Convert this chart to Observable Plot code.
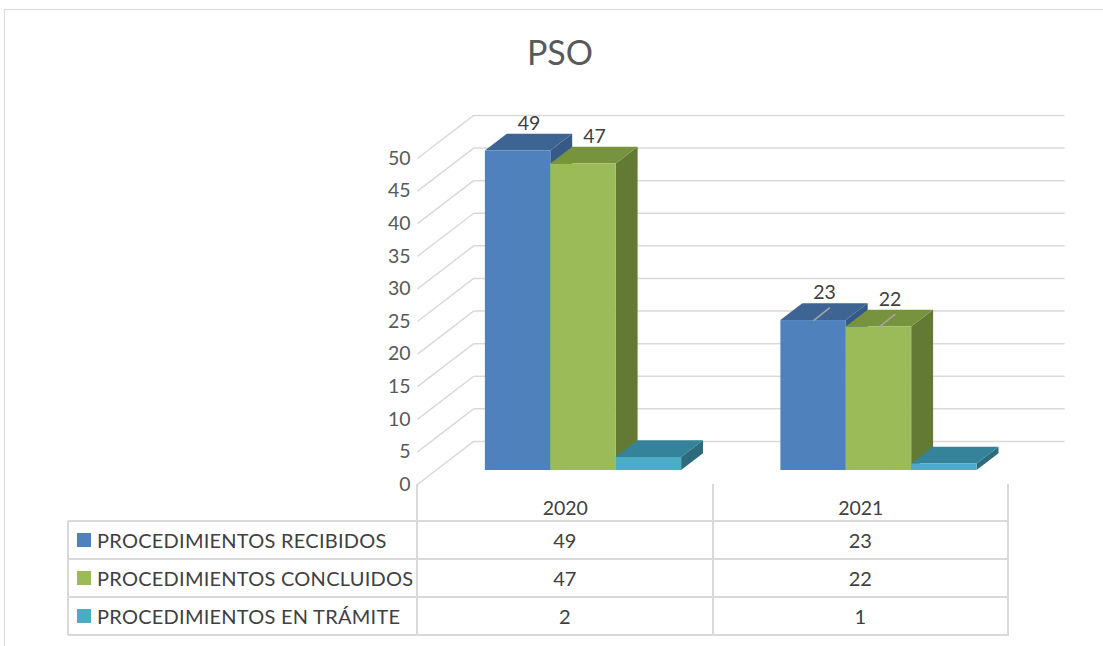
<!DOCTYPE html>
<html>
<head>
<meta charset="utf-8">
<script src="https://cdn.jsdelivr.net/npm/d3@7"></script>
<script src="https://cdn.jsdelivr.net/npm/@observablehq/plot@0.6"></script>
<style>
  html, body { margin: 0; padding: 0; background: #fff; }
  #wrap { position: relative; width: 1103px; height: 646px; overflow: hidden; font-family: Lato, "Open Sans", sans-serif; color: #595959; }
  #frame { position: absolute; left: 4px; top: 9px; width: 1200px; height: 800px; border-left: 1px solid #d9d9d9; border-top: 1px solid #d9d9d9; box-sizing: border-box; }
  #title { position: absolute; left: 0; width: 1120px; top: 32px; line-height: 40px; text-align: center; font-size: 34px; color: #595959; }
  #chart { position: absolute; left: 0; top: 0; }
  .ln { position: absolute; background: #d9d9d9; }
  .cell { position: absolute; display: flex; align-items: center; font-size: 20px; color: #404040; white-space: nowrap; }
  .lab { letter-spacing: 0.25px; }
  .sw { display: inline-block; width: 14px; height: 14px; margin-right: 6px; }
</style>
</head>
<body>
<div id="wrap">
  <div id="frame"></div>
  <div id="title">PSO</div>
  <div id="chart"></div>
</div>
<script>
// ---- data ----
const years = ["2020", "2021"];
const seriesNames = ["PROCEDIMIENTOS RECIBIDOS", "PROCEDIMIENTOS CONCLUIDOS", "PROCEDIMIENTOS EN TRÁMITE"];
const recibidos = [49, 23];
const concluidos = [47, 22];
const enTramite = [2, 1];
const yTicks = [0, 5, 10, 15, 20, 25, 30, 35, 40, 45, 50];
const labelled = [true, true, false];   // data labels shown per series
const leader = [false, true];           // leader lines per year
const frontColors = ["#4F81BD", "#9BBB59", "#4BACC6"];
const topColors = ["#3D6493", "#77933D", "#35839A"];
const sideColors = ["#365A87", "#637A34", "#2E6B7D"];

// ---- 3D layout (data units) ----
const WX = 0.19, WY = 6.6;     // wall depth
const F0 = 0.325, F1 = 0.715;  // bar depth span (fraction of wall depth)
const HALF = 0.332;            // half cluster width
const BW = 2 * HALF / 3;       // bar width

const values = [recibidos, concluidos, enTramite];
const bars = [];
years.forEach((yr, i) => values.forEach((vals, j) => {
  const xl = i - HALF + j * BW;
  bars.push({id: i + "-" + j, i, j, year: yr, v: vals[i], xl, xr: xl + BW, xc: xl + BW / 2});
}));

const faceMarks = [0, 1, 2].flatMap(j => {
  const b = bars.filter(d => d.j === j);
  const side = b.flatMap(d => [
    {id: d.id, x: d.xr + F0 * WX, y1: F0 * WY, y2: d.v + F0 * WY},
    {id: d.id, x: d.xr + F1 * WX, y1: F1 * WY, y2: d.v + F1 * WY}
  ]);
  const top = b.flatMap(d => [
    {id: d.id, y: d.v + F0 * WY, x1: d.xl + F0 * WX, x2: d.xr + F0 * WX},
    {id: d.id, y: d.v + F1 * WY, x1: d.xl + F1 * WX, x2: d.xr + F1 * WX}
  ]);
  return [
    Plot.areaY(side, {x: "x", y1: "y1", y2: "y2", z: "id", fill: sideColors[j]}),
    Plot.areaX(top, {y: "y", x1: "x1", x2: "x2", z: "id", fill: topColors[j]}),
    Plot.rect(b, {x1: d => d.xl + F0 * WX, x2: d => d.xr + F0 * WX, y1: F0 * WY, y2: d => d.v + F0 * WY, fill: frontColors[j], inset: 0})
  ];
});

const labels = bars.filter(d => labelled[d.j]);

const plot = Plot.plot({
  width: 1103,
  height: 646,
  marginLeft: 417,
  marginRight: 95,
  marginTop: 158,
  marginBottom: 162,
  style: {fontFamily: "Lato, 'Open Sans', sans-serif", fontSize: "19px", color: "#595959", background: "transparent", overflow: "visible"},
  x: {type: "linear", domain: [-0.5, 1.5]},
  y: {domain: [0, 50]},
  marks: [
    // left wall gridlines
    Plot.link(yTicks, {x1: -0.5, y1: d => d, x2: -0.5 + WX, y2: d => d + WY, stroke: "#d9d9d9", strokeWidth: 1.5}),
    // back wall gridlines
    Plot.link(yTicks, {x1: -0.5 + WX, y1: d => d + WY, x2: 1.5 + WX, y2: d => d + WY, stroke: "#d9d9d9", strokeWidth: 1.5}),
    ...faceMarks,
    Plot.link(labels.filter(d => leader[d.i]), {
      x1: d => d.xc + F0 * WX, y1: d => d.v + F0 * WY,
      x2: d => d.xc + (F0 + 0.29) * WX, y2: d => d.v + (F0 + 0.3) * WY,
      stroke: "#a6a6a6", strokeWidth: 1.5
    }),
    Plot.text(labels, {x: d => d.xc + (F0 + F1) / 2 * WX, y: d => d.v + F1 * WY, text: d => String(d.v), dy: -11, fill: "#404040", fontSize: 19.5}),
    Plot.axisY({ticks: yTicks, tickSize: 0, tickPadding: 7, fontSize: 19.5, label: null, fill: "#595959"}),
    Plot.axisX({ticks: [0, 1], tickFormat: i => years[i], tickSize: 0, tickPadding: 17, fontSize: 19.5, label: null, fill: "#404040"})
  ]
});
document.getElementById("chart").appendChild(plot);

// ---- data table (legend + values) ----
const wrap = document.getElementById("wrap");
const sx = plot.scale("x"), sy = plot.scale("y");
const colX = [-0.5, 0.5, 1.5].map(v => sx.apply(v));
const tableLeft = 68;
const headTop = sy.apply(0);
const rowTop = headTop + 36.5;
const rowH = 38.2;
const lw = 2;
function line(x, y, w, h) {
  const d = document.createElement("div");
  d.className = "ln";
  Object.assign(d.style, {left: x + "px", top: y + "px", width: w + "px", height: h + "px"});
  wrap.appendChild(d);
}
function cell(x, y, w, h, html, center, cls) {
  const d = document.createElement("div");
  d.className = "cell" + (cls ? " " + cls : "");
  Object.assign(d.style, {left: x + "px", top: y + "px", width: w + "px", height: h + "px", justifyContent: center ? "center" : "flex-start"});
  d.innerHTML = html;
  wrap.appendChild(d);
}
const tableBottom = rowTop + 3 * rowH;
// horizontal lines
for (let r = 0; r <= 3; r++) line(tableLeft, rowTop + r * rowH - lw / 2, colX[2] - tableLeft + lw / 2, lw);
// vertical lines
line(tableLeft - lw / 2, rowTop, lw, tableBottom - rowTop);
colX.forEach(x => line(x - lw / 2, headTop, lw, tableBottom - headTop + lw / 2));
// rows (the year header comes from the x axis)
seriesNames.forEach((name, j) => {
  const top = rowTop + j * rowH;
  cell(tableLeft + 9, top, colX[0] - tableLeft - 9, rowH,
    '<span class="sw" style="background:' + frontColors[j] + '"></span>' + name, false, "lab");
  years.forEach((yr, i) => cell(colX[i], top, colX[i + 1] - colX[i], rowH, String(values[j][i]), true));
});
</script>
</body>
</html>
